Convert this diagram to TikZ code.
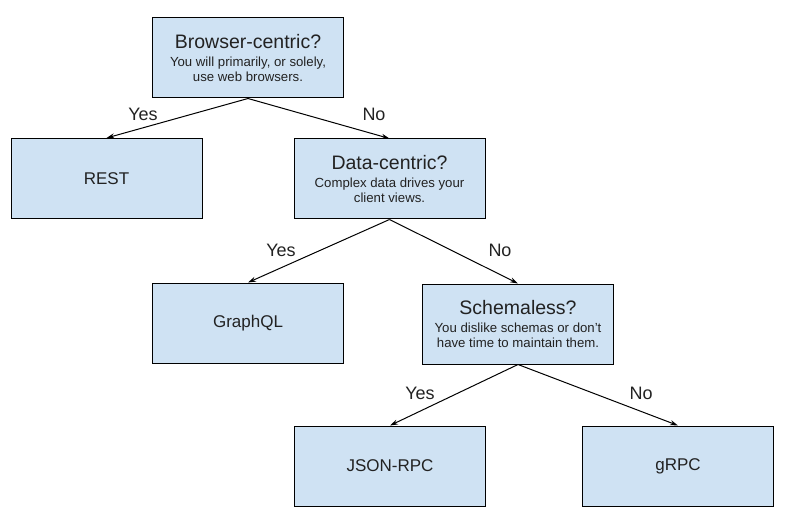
\documentclass[tikz,border=0pt]{standalone}
\usepackage{fontspec}
\setmainfont{Liberation Sans}
\usetikzlibrary{arrows.meta}
\definecolor{boxblue}{HTML}{CFE2F3}
\definecolor{inkgray}{HTML}{222222}

\begin{document}
\begin{tikzpicture}[
    x=1pt, y=-1pt,
    every node/.style={text=inkgray},
    choice/.style={draw=black, fill=boxblue, line width=1pt, minimum width=191pt, minimum height=80pt, inner sep=0pt, align=center, font=\fontsize{13.2}{15}\selectfont},
    leaf/.style={choice, font=\fontsize{17}{20}\selectfont},
    answer/.style={font=\fontsize{18}{21}\selectfont},
    arrow/.style={->, line width=1pt, >={Stealth[length=8pt,width=5pt]}}
  ]
    \useasboundingbox (0,0) rectangle (786,521);
    \node[choice] (browser) at (248,58) {{\fontsize{19.5}{22}\selectfont Browser-centric?}\\[3pt] You will primarily, or solely,\\ use web browsers.};
    \node[leaf] (rest) at (106.5,178.5) {REST};
    \node[choice] (data) at (389.5,179) {{\fontsize{19.5}{22}\selectfont Data-centric?}\\[3pt] Complex data drives your\\ client views.};
    \node[leaf] (graphql) at (248,323) {GraphQL};
    \node[choice] (schema) at (518,324) {{\fontsize{19.5}{22}\selectfont Schemaless?}\\[3pt] You dislike schemas or don’t\\ have time to maintain them.};
    \node[leaf] (jsonrpc) at (390,466) {JSON-RPC};
    \node[leaf] (grpc) at (678,466) {gRPC};

    \draw[arrow] (browser.south) -- (rest.north);
    \draw[arrow] (browser.south) -- (data.north);
    \draw[arrow] (data.south) -- (graphql.north);
    \draw[arrow] (data.south) -- (schema.north);
    \draw[arrow] (schema.south) -- (jsonrpc.north);
    \draw[arrow] (schema.south) -- (grpc.north);

    \node[answer] (yesA) at (143,114) {Yes};
    \node[answer] (noA) at (374,114) {No};
    \node[answer] (yesB) at (281,250) {Yes};
    \node[answer] (noB) at (500,250) {No};
    \node[answer] (yesC) at (420,393) {Yes};
    \node[answer] (noC) at (641,393) {No};
  \end{tikzpicture}
\end{document}
